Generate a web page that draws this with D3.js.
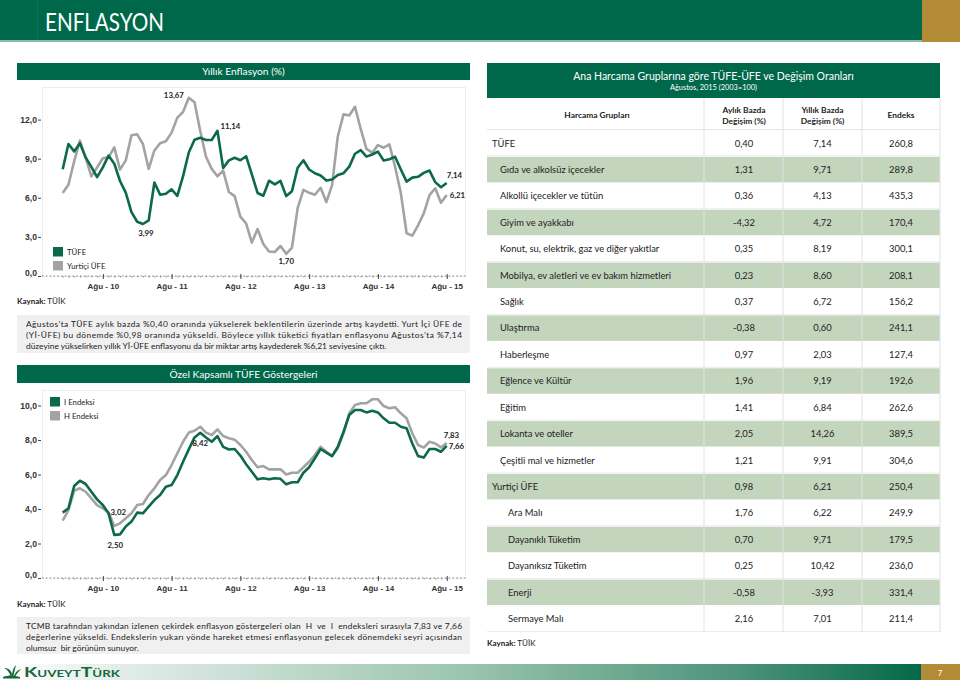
<!DOCTYPE html>
<html><head><meta charset="utf-8">
<script src="https://cdn.jsdelivr.net/npm/d3@7"></script>
<style>
body{margin:0;background:#fff;}
svg{display:block;font-family:Lato,"DejaVu Sans",sans-serif;}
.pre{white-space:pre;}
</style>
</head><body>
<svg id="c" width="960" height="680"></svg>
<script>
// ---------------- DATA ----------------
const monthCount = 68; // Ocak 2010 - Ağustos 2015
const axisTickMonths = [7, 19, 31, 43, 55, 67];
const axisTickLabels = ["Ağu - 10", "Ağu - 11", "Ağu - 12", "Ağu - 13", "Ağu - 14", "Ağu - 15"];

const tufe = [
  8.19,10.13,9.56,10.19,9.10,8.37,7.58,8.33,9.24,8.62,7.29,6.40,
  4.90,4.16,3.99,4.26,7.17,6.24,6.31,6.65,6.15,7.66,9.48,10.45,
  10.61,10.43,10.43,11.14,8.28,8.87,9.07,8.88,9.19,7.80,6.37,6.16,
  7.31,7.03,7.29,6.13,6.51,8.30,8.88,8.17,7.88,7.71,7.32,7.40,
  7.75,7.89,8.39,9.38,9.66,9.16,9.32,9.54,8.86,8.96,9.15,8.17,
  7.24,7.55,7.61,7.91,8.09,7.20,6.81,7.14];
const yiUfe = [
  6.37,7.00,8.80,10.38,9.06,7.64,8.32,9.03,9.10,9.87,8.16,8.87,
  10.80,10.87,10.13,8.21,9.63,10.19,10.34,11.00,12.15,12.58,13.67,13.33,
  11.13,9.15,8.22,7.65,8.09,6.44,6.13,4.56,4.03,2.57,3.60,2.45,
  1.88,1.84,2.30,1.70,2.17,5.23,6.61,6.38,6.23,6.77,5.67,6.97,
  10.72,12.40,12.31,12.98,11.28,9.75,9.46,10.04,9.84,10.10,8.36,6.36,
  3.28,3.10,3.89,4.80,6.20,6.73,5.62,6.21];
const iEndeksi = [
  3.79,4.04,5.33,5.64,5.45,5.00,4.56,4.23,3.75,2.50,2.53,2.98,
  3.27,3.79,3.75,4.14,4.52,4.81,5.29,5.39,5.97,6.74,7.46,8.15,
  8.42,8.15,7.90,8.23,7.60,7.45,7.48,7.10,6.60,6.16,5.72,5.78,
  5.72,5.78,5.75,5.43,5.55,5.55,6.10,6.42,6.94,7.48,7.27,7.07,
  7.61,8.48,9.45,9.74,9.74,9.60,9.70,9.60,9.26,9.00,9.00,8.77,
  8.68,7.80,7.07,6.98,7.48,7.48,7.32,7.66];
const hEndeksi = [
  3.32,3.94,5.06,5.20,5.00,4.62,4.23,4.04,3.79,3.02,3.17,3.46,
  3.75,4.23,4.29,4.81,5.20,5.68,5.97,6.55,7.23,7.90,8.43,8.54,
  8.77,8.43,8.29,8.62,8.23,8.10,8.02,7.71,7.32,6.84,6.42,6.49,
  6.30,6.30,6.30,6.00,6.10,6.10,6.42,6.74,7.13,7.61,7.32,7.07,
  7.52,8.39,9.55,10.03,10.13,10.13,10.36,10.36,9.97,9.84,9.90,9.55,
  9.26,8.39,7.71,7.56,7.90,7.80,7.57,7.83];
const chart1YTicks = [0, 3, 6, 9, 12];
const chart2YTicks = [0, 2, 4, 6, 8, 10];

const groups = ["TÜFE","Gıda ve alkolsüz içecekler","Alkollü içecekler ve tütün","Giyim ve ayakkabı",
  "Konut, su, elektrik, gaz ve diğer yakıtlar","Mobilya, ev aletleri ve ev bakım hizmetleri","Sağlık",
  "Ulaştırma","Haberleşme","Eğlence ve Kültür","Eğitim","Lokanta ve oteller","Çeşitli mal ve hizmetler",
  "Yurtiçi ÜFE","Ara Malı","Dayanıklı Tüketim","Dayanıksız Tüketim","Enerji","Sermaye Malı"];
const groupLevel = [0,1,1,1,1,1,1,1,1,1,1,1,1,0,2,2,2,2,2];
const monthlyChange = [0.40,1.31,0.36,-4.32,0.35,0.23,0.37,-0.38,0.97,1.96,1.41,2.05,1.21,0.98,1.76,0.70,0.25,-0.58,2.16];
const annualChange = [7.14,9.71,4.13,4.72,8.19,8.60,6.72,0.60,2.03,9.19,6.84,14.26,9.91,6.21,6.22,9.71,10.42,-3.93,7.01];
const indexValues = [260.8,289.8,435.3,170.4,300.1,208.1,156.2,241.1,127.4,192.6,262.6,389.5,304.6,250.4,249.9,179.5,236.0,331.4,211.4];

const para1 = [
  "Ağustos’ta TÜFE aylık bazda %0,40 oranında yükselerek beklentilerin üzerinde artış kaydetti. Yurt İçi ÜFE de",
  "(Yİ-ÜFE) bu dönemde %0,98 oranında yükseldi. Böylece yıllık tüketici fiyatları enflasyonu Ağustos’ta %7,14",
  "düzeyine yükselirken yıllık Yİ-ÜFE enflasyonu da bir miktar artış kaydederek %6,21 seviyesine çıktı."];
const para2 = [
  "TCMB tarafından yakından izlenen çekirdek enflasyon göstergeleri olan  H  ve  I  endeksleri sırasıyla 7,83 ve 7,66",
  "değerlerine yükseldi. Endekslerin yukarı yönde hareket etmesi enflasyonun gelecek dönemdeki seyri açısından",
  "olumsuz  bir görünüm sunuyor."];

// ---------------- DRAW ----------------
const svg = d3.select("#c");
const GREEN = "#00684a", GOLD = "#b38a35", LG = "#0d6a46", LGRAY = "#a3a3a3", ROWG = "#c3d5bd", TXT = "#222";
const loc = d3.formatLocale({decimal:",", thousands:".", grouping:[3], currency:["",""], minus:"-"});
const f2 = loc.format(".2f"), f1 = loc.format(".1f");

// header
svg.append("rect").attr("x",0).attr("y",0).attr("width",960).attr("height",40).attr("fill",GREEN);
svg.append("rect").attr("x",37).attr("y",0).attr("width",1).attr("height",40).attr("fill","#0b7352");
svg.append("rect").attr("x",0).attr("y",40).attr("width",960).attr("height",2).attr("fill","#8dbba7");
svg.append("rect").attr("x",922).attr("y",0).attr("width",38).attr("height",42).attr("fill",GOLD);
svg.append("text").attr("x",45).attr("y",31).attr("fill","#fff").attr("font-size",25)
  .attr("textLength",119).attr("lengthAdjust","spacingAndGlyphs").text("ENFLASYON");

function titleBar(y, h, txt){
  svg.append("rect").attr("x",17).attr("y",y).attr("width",453).attr("height",h).attr("fill",GREEN);
  svg.append("text").attr("x",243.5).attr("y",y+h/2+3.6).attr("text-anchor","middle")
    .attr("fill","#fff").attr("font-size",10.2).text(txt);
}
function kaynak(x, y){
  const t = svg.append("text").attr("x",x).attr("y",y).attr("font-size",8).attr("fill",TXT);
  t.append("tspan").attr("font-weight","bold").text("Kaynak:");
  t.append("tspan").text(" TÜİK");
}
function paragraph(y0, y1, lines){
  svg.append("rect").attr("x",17).attr("y",y0).attr("width",453).attr("height",y1-y0).attr("fill","#f0f0f0");
  lines.forEach((l,i)=>{
    const t = svg.append("text").attr("class","pre").attr("x",26).attr("y",y0+12+i*11)
      .attr("font-size",8.4).attr("fill",TXT).text(l);
    if(i < lines.length-1) t.attr("textLength",436).attr("lengthAdjust","spacing");
  });
}

function lineChart(cfg){
  const g = svg.append("g");
  const x = d3.scaleLinear().domain([0, monthCount-1]).range([62.7, 446.7]);
  const y = d3.scaleLinear().domain([0, cfg.yMax]).range([cfg.bottom, cfg.top]);
  g.append("rect").attr("x",42.5).attr("y",cfg.top+0.5).attr("width",423).attr("height",cfg.bottom-cfg.top)
    .attr("fill","none").attr("stroke","#eeeeee");
  // y axis
  const ya = g.append("g").attr("transform","translate(41,0)")
    .call(d3.axisLeft(y).tickValues(cfg.yTicks).tickFormat(f1).tickSize(3).tickPadding(1));
  ya.select(".domain").remove();
  ya.selectAll("line").attr("stroke","#444");
  ya.selectAll("text").attr("font-size",8.6).attr("font-weight","bold").attr("fill","#333")
    .attr("dy",(d)=> d===0 ? "-0.1em" : "0.32em");
  // x axis
  g.append("line").attr("x1",42).attr("x2",466).attr("y1",cfg.bottom).attr("y2",cfg.bottom)
    .attr("stroke","#888").attr("stroke-dasharray","1.6,2.2");
  const xm = g.append("g").attr("transform",`translate(0,${cfg.bottom})`)
    .call(d3.axisBottom(x).tickValues(d3.range(monthCount)).tickFormat("").tickSize(1.5));
  xm.select(".domain").remove(); xm.selectAll("line").attr("stroke","#888");
  const xa = g.append("g").attr("transform",`translate(0,${cfg.bottom})`)
    .call(d3.axisBottom(x).tickValues(axisTickMonths).tickFormat((d,i)=>axisTickLabels[i]).tickSize(3).tickPadding(4));
  xa.select(".domain").remove();
  xa.selectAll("line").attr("stroke","#444").attr("y1",-2);
  xa.selectAll("text").attr("font-size",8).attr("font-weight","bold").attr("fill","#333");
  // lines
  const line = d3.line().x((d,i)=>x(i)).y(d=>y(d));
  cfg.series.forEach(s=>{
    g.append("path").datum(s.values).attr("d",line).attr("fill","none").attr("stroke",s.color)
      .attr("stroke-width",2.6).attr("stroke-linejoin","round");
  });
  // legend
  cfg.series.slice().reverse().forEach((s,k)=>{
    const ly = cfg.legendY + k*14;
    g.append("rect").attr("x",cfg.legendX).attr("y",ly).attr("width",10).attr("height",9.5).attr("fill",s.color);
    g.append("text").attr("x",cfg.legendX+14).attr("y",ly+7.8).attr("font-size",7.8).attr("fill",TXT).text(s.name);
  });
  // callouts
  cfg.callouts.forEach(c=>{
    const v = c.values[c.i];
    g.append("text").attr("x",x(c.i)+c.dx).attr("y",y(v)+c.dy).attr("text-anchor",c.anchor)
      .attr("font-size",7.8).attr("font-weight","bold").attr("fill",TXT).text(f2(v));
  });
}

// chart 1
titleBar(63, 17, "Yıllık Enflasyon (%)");
lineChart({top:87, bottom:276, yMax:14.5, yTicks:chart1YTicks,
  series:[{name:"Yurtiçi ÜFE", values:yiUfe, color:LGRAY},{name:"TÜFE", values:tufe, color:LG}],
  legendX:53, legendY:247,
  callouts:[
    {values:yiUfe, i:22, dx:-5, dy:0, anchor:"end"},
    {values:tufe, i:27, dx:3, dy:-2, anchor:"start"},
    {values:tufe, i:14, dx:3, dy:12, anchor:"middle"},
    {values:yiUfe, i:39, dx:0, dy:10, anchor:"middle"},
    {values:tufe, i:67, dx:0, dy:-5, anchor:"start"},
    {values:yiUfe, i:67, dx:3, dy:3, anchor:"start"}
  ]});
kaynak(17, 304);
paragraph(315, 353, para1);

// chart 2
titleBar(365, 18, "Özel Kapsamlı TÜFE Göstergeleri");
lineChart({top:390, bottom:578, yMax:10.9, yTicks:chart2YTicks,
  series:[{name:"H Endeksi", values:hEndeksi, color:LGRAY},{name:"I Endeksi", values:iEndeksi, color:LG}],
  legendX:50, legendY:397,
  callouts:[
    {values:hEndeksi, i:9, dx:4, dy:-11, anchor:"middle"},
    {values:iEndeksi, i:9, dx:1, dy:13, anchor:"middle"},
    {values:iEndeksi, i:24, dx:0, dy:13, anchor:"middle"},
    {values:hEndeksi, i:67, dx:-3, dy:-5, anchor:"start"},
    {values:iEndeksi, i:67, dx:2, dy:3, anchor:"start"}
  ]});
kaynak(17, 607);
paragraph(617, 654, para2);

// table
const tx0 = 487, tx1 = 940;
const colX = [704, 783, 862, 940];
const colC = [744, 822.5, 901];
svg.append("rect").attr("x",tx0).attr("y",63).attr("width",tx1-tx0).attr("height",35).attr("fill",GREEN);
svg.append("text").attr("x",713.5).attr("y",80).attr("text-anchor","middle").attr("fill","#fff")
  .attr("font-size",10.5).text("Ana Harcama Gruplarına göre TÜFE-ÜFE ve Değişim Oranları");
svg.append("text").attr("x",713.5).attr("y",89.5).attr("text-anchor","middle").attr("fill","#fff")
  .attr("font-size",7.4).text("Ağustos, 2015 (2003=100)");
const rows = d3.scaleBand().domain(groups).range([130, 632]);
groups.forEach((gname,i)=>{
  const ry = rows(gname), rh = rows.bandwidth();
  if(i%2===1) svg.append("rect").attr("x",tx0).attr("y",ry+0.5).attr("width",tx1-tx0).attr("height",rh-1).attr("fill",ROWG);
  else svg.append("line").attr("x1",tx0).attr("x2",tx1).attr("y1",ry+rh-0.5).attr("y2",ry+rh-0.5).attr("stroke","#ececec");
});
colX.forEach(cx=>svg.append("line").attr("x1",cx).attr("x2",cx).attr("y1",98).attr("y2",632).attr("stroke","#e2e2e2"));
svg.append("line").attr("x1",tx0).attr("x2",tx1).attr("y1",129.5).attr("y2",129.5).attr("stroke","#e6e6e6");
const hdr = (x,y,t)=>svg.append("text").attr("x",x).attr("y",y).attr("text-anchor","middle")
  .attr("font-size",8.4).attr("font-weight","bold").attr("fill",TXT).text(t);
hdr(597,118,"Harcama Grupları");
hdr(colC[0],113,"Aylık Bazda"); hdr(colC[0],123.5,"Değişim (%)");
hdr(colC[1],113,"Yıllık Bazda"); hdr(colC[1],123.5,"Değişim (%)");
hdr(colC[2],118,"Endeks");
const indent = [492, 500, 508];
groups.forEach((gname,i)=>{
  const cy = rows(gname) + rows.bandwidth()/2 + 3.3;
  svg.append("text").attr("x",indent[groupLevel[i]]).attr("y",cy).attr("font-size",9.4).attr("fill",TXT).text(gname);
  [f2(monthlyChange[i]), f2(annualChange[i]), f1(indexValues[i])].forEach((v,k)=>{
    svg.append("text").attr("x",colC[k]).attr("y",cy).attr("text-anchor","middle").attr("font-size",9.4).attr("fill",TXT).text(v);
  });
});
kaynak(487, 646);

// footer
const defs = svg.append("defs");
const lg = defs.append("linearGradient").attr("id","fg").attr("x1","0").attr("x2","1").attr("y1","0").attr("y2","0");
[[0,"#ffffff"],[0.12,"#e4eee9"],[0.5,"#9cc4b1"],[0.8,"#4d947a"],[1,"#046848"]].forEach(s=>
  lg.append("stop").attr("offset",s[0]).attr("stop-color",s[1]));
svg.append("rect").attr("x",0).attr("y",664).attr("width",921).attr("height",16).attr("fill","url(#fg)");
svg.append("rect").attr("x",921).attr("y",664).attr("width",39).attr("height",16).attr("fill",GOLD);
svg.append("text").attr("x",940).attr("y",676).attr("text-anchor","middle").attr("fill","#fff").attr("font-size",8).text("7");
const logo = svg.append("g").attr("fill","#17683c");
logo.append("path").attr("d","M11,678 C10,673 8,670 4,668 C8,668 11,670 12,674 Z");
logo.append("path").attr("d","M12,678 C12,672 13,668 16,665 C15,669 14,673 13,678 Z");
logo.append("path").attr("d","M13,678 C15,673 17,670 21,669 C18,672 16,675 14,678 Z");
logo.append("path").attr("d","M3,677 C8,675 14,675 20,677 L20,678.5 L3,678.5 Z");
svg.append("text").attr("x",24).attr("y",677).attr("fill","#17683c").attr("font-size",13)
  .attr("font-weight","bold").style("font-variant","small-caps").attr("textLength",96)
  .attr("lengthAdjust","spacingAndGlyphs").text("KuveytTürk");
</script>
</body></html>
